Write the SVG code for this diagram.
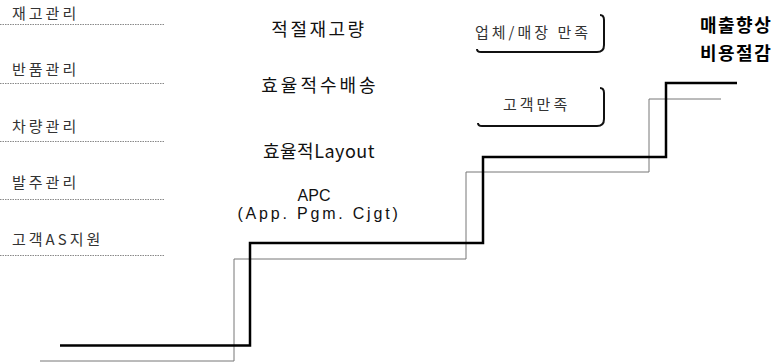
<svg xmlns="http://www.w3.org/2000/svg" width="779" height="364" viewBox="0 0 779 364">
<style>
.lbl{font-family:"Noto Sans CJK KR","Noto Sans",sans-serif;font-size:15px;letter-spacing:3px;fill:#333}
.mid{font-family:"Noto Sans CJK KR","Noto Sans",sans-serif;font-size:18px;fill:#111;text-anchor:middle}
.apc{font-family:"Liberation Sans","Noto Sans CJK KR",sans-serif;font-size:16px;fill:#111;text-anchor:middle}
.bold{font-family:"Noto Sans CJK KR",sans-serif;font-size:18px;font-weight:bold;letter-spacing:1.5px;fill:#000}
.dot{stroke:#888;stroke-width:1;stroke-dasharray:1.5 1}
.box{fill:none;stroke:#111;stroke-width:2}
.thick{fill:none;stroke:#000;stroke-width:2.5}
.thin{fill:none;stroke:#777;stroke-width:1}
</style>
<rect width="779" height="364" fill="#fff"/>
<g id="left-labels">
  <g id="n-stock"><text class="lbl" x="12" y="19">재고관리</text><line class="dot" x1="0" y1="24.5" x2="165" y2="24.5"/></g>
  <g id="n-return"><text class="lbl" x="12" y="75">반품관리</text><line class="dot" x1="0" y1="83.5" x2="165" y2="83.5"/></g>
  <g id="n-vehicle"><text class="lbl" x="12" y="132">차량관리</text><line class="dot" x1="0" y1="141.5" x2="165" y2="141.5"/></g>
  <g id="n-order"><text class="lbl" x="12" y="188">발주관리</text><line class="dot" x1="0" y1="199.5" x2="165" y2="199.5"/></g>
  <g id="n-as"><text class="lbl" x="12" y="245">고객AS지원</text><line class="dot" x1="0" y1="255.5" x2="165" y2="255.5"/></g>
</g>
<g id="middle-labels">
  <g id="n-optimal"><text class="mid" x="319" y="36" letter-spacing="2.5">적절재고량</text></g>
  <g id="n-delivery"><text class="mid" x="320" y="92" letter-spacing="3">효율적수배송</text></g>
  <g id="n-layout"><text class="mid" x="319" y="158" letter-spacing="0.5">효율적Layout</text></g>
  <g id="n-apc"><text class="apc" x="314" y="201">APC</text><text class="apc" x="319" y="219" letter-spacing="2.8">(App. Pgm. Cjgt)</text></g>
</g>
<g id="n-vendor">
  <path class="box" d="M477 49 Q477 52 481 52 L597 52 Q604 52 604 45 L604 20 Q604 15 600 15"/>
  <text class="lbl" x="475" y="38">업체/매장 만족</text>
</g>
<g id="n-customer">
  <path class="box" d="M478 123 Q478 126 482 126 L597 126 Q604 126 604 119 L604 93 Q604 88 600 88"/>
  <text class="lbl" x="503" y="110">고객만족</text>
</g>
<g id="n-result">
  <text class="bold" x="700" y="32">매출향상</text>
  <text class="bold" x="700" y="60">비용절감</text>
</g>
<g id="connectors">
  <path class="thin" d="M40 361 L234 361 L234 259 L466 259 L466 172 L649 172 L649 99 L721 99"/>
  <path class="thick" d="M60 345.5 L250 345.5 L250 243 L483 243 L483 157 L666 157 L666 83 L737 83"/>
</g>
</svg>
